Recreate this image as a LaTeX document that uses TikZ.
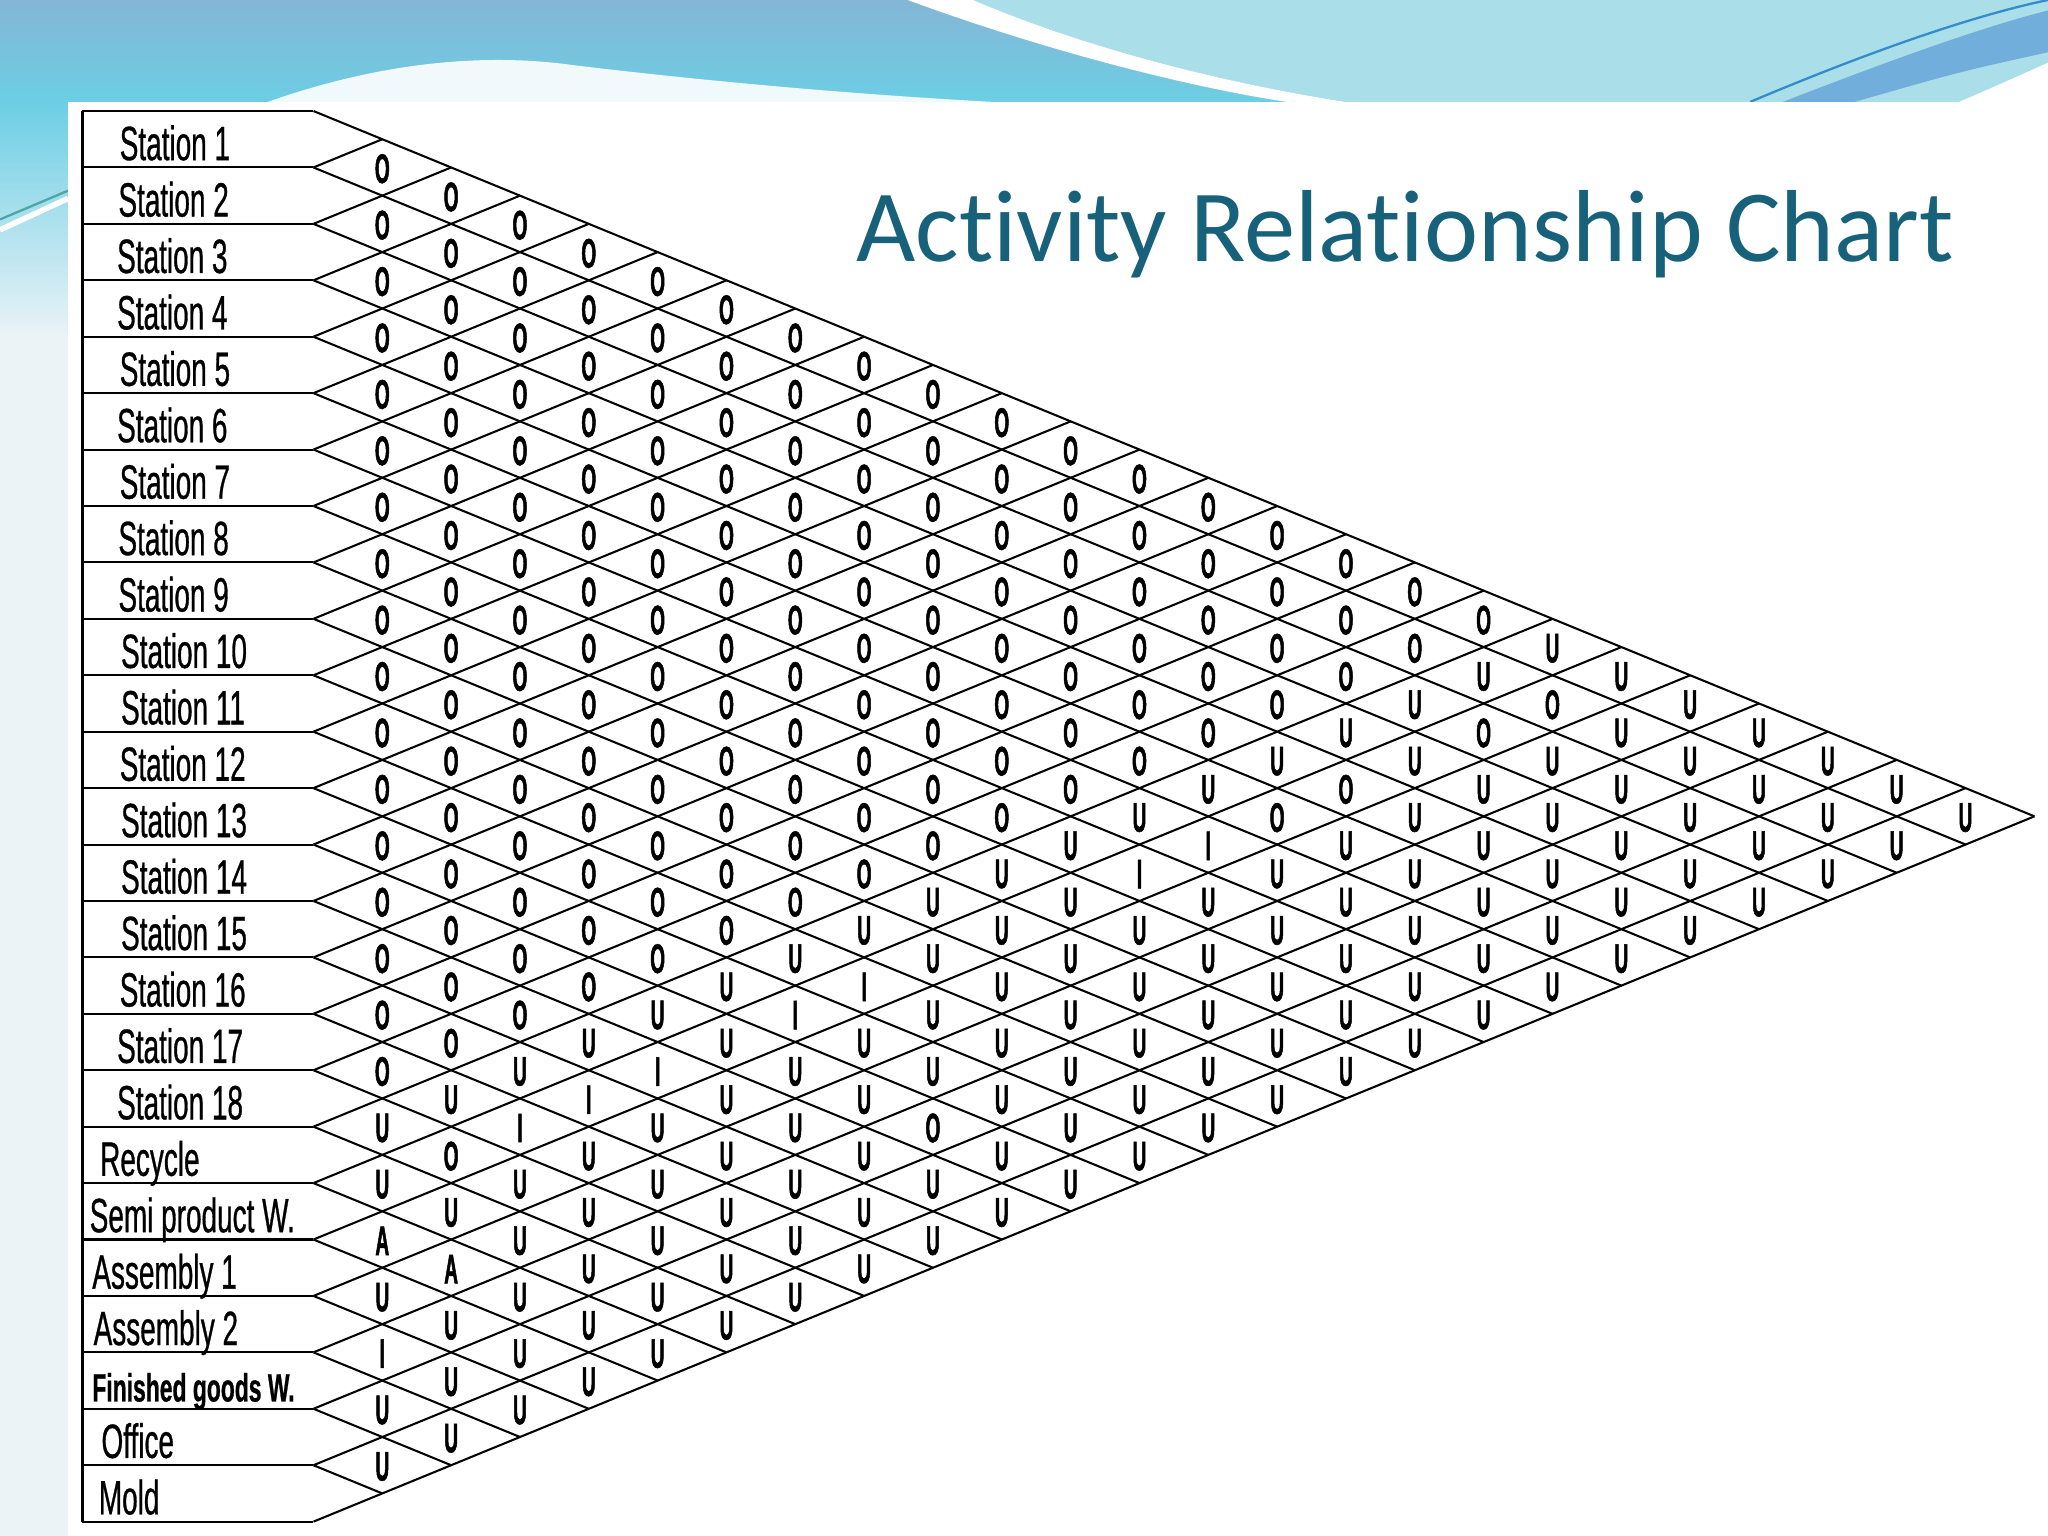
\documentclass[tikz,border=0pt]{standalone}
\usepackage{fontspec}
\setmainfont{Liberation Sans}
\newfontfamily\arcfont[FakeStretch=0.46,FakeBold=1.2]{Liberation Sans}
\newfontfamily\deptfont[FakeStretch=0.58,FakeBold=0.6]{Liberation Sans}
\newfontfamily\titlefont[Ligatures=NoCommon]{Carlito}
\usetikzlibrary{positioning}
\definecolor{titleteal}{RGB}{24,97,122}
\definecolor{skyblue}{RGB}{132,182,214}
\definecolor{skycyan}{RGB}{108,206,228}
\definecolor{lightcyan}{RGB}{170,222,232}
\definecolor{palebg}{RGB}{236,243,247}
\definecolor{swooshblue}{RGB}{52,140,205}
\tikzset{
  rowline/.style={line width=0.45pt},
  rel/.style={inner sep=0pt,font=\arcfont\bfseries\fontsize{9}{10}\selectfont},
  dept/.style={anchor=base west,inner sep=0pt,font=\deptfont\fontsize{10.5}{12}\selectfont}
}

\begin{document}
\begin{tikzpicture}[x=0.1mm,y=-0.1mm]
\useasboundingbox (0,0) rectangle (1568,1176);

% slide backdrop
\fill[palebg] (0,0) rectangle (1568,1176);
\shade[top color=skycyan,bottom color=palebg] (0,78) rectangle (52,260);
\draw[white,line width=1.2pt] (0,176) -- (52,152);
\draw[teal!70,line width=0.5pt] (0,168) -- (52,146);
\shade[top color=skyblue,bottom color=skycyan] (0,0) rectangle (1568,78);
\fill[white,opacity=0.9] (205,78) .. controls (290,48) and (370,40) .. (440,50)
  .. controls (540,62) and (650,72) .. (760,78) -- cycle;
\fill[lightcyan] (745,0) .. controls (815,30) and (915,60) .. (1030,78) -- (1568,78) -- (1568,0) -- cycle;
\fill[white] (695,0) .. controls (790,35) and (900,65) .. (985,78) -- (1030,78)
  .. controls (915,60) and (815,30) .. (745,0) -- cycle;
\fill[swooshblue!70] (1365,78) .. controls (1450,45) and (1520,20) .. (1568,8)
  -- (1568,40) .. controls (1500,55) .. (1420,78) -- cycle;
\draw[swooshblue,line width=0.5pt] (1340,78) .. controls (1430,40) and (1510,12) .. (1568,0);
\fill[white] (1500,78) .. controls (1530,65) .. (1568,48) -- (1568,78) -- cycle;
\fill[white] (52,78) rectangle (1568,1176);

\node[anchor=base west,inner sep=0pt,text=titleteal,font=\titlefont\fontsize{22.3}{26}\selectfont]
  (title) at (655,200) {Activity Relationship Chart};

% row boundaries
\foreach \i in {0,...,25} {
  \pgfmathsetmacro\yy{85+43.2*\i}
  \coordinate (l\i) at (63,\yy);
  \coordinate (p\i) at (240,\yy);
  \draw[rowline] (l\i) -- (p\i);
}
\draw[line width=0.6pt] (l0) -- (l25);

% diamond lattice
\foreach \i in {0,...,24} {
  \pgfmathsetmacro\yy{85+43.2*\i}
  \coordinate (q\i) at ({240+1.22*(1165-\yy)},{(\yy+1165)/2});
  \draw[rowline] (p\i) -- (q\i);
}
\foreach \i in {1,...,25} {
  \pgfmathsetmacro\yy{85+43.2*\i}
  \coordinate (r\i) at ({240+1.22*(\yy-85)},{(\yy+85)/2});
  \draw[rowline] (p\i) -- (r\i);
}

\foreach \i/\x/\t in {1/91/Station 1,2/90/Station 2,3/89/Station 3,4/89/Station 4,
  5/91/Station 5,6/89/Station 6,7/91/Station 7,8/90/Station 8,9/90/Station 9,
  10/92/Station 10,11/92/Station 11,12/91/Station 12,13/92/Station 13,
  14/92/Station 14,15/92/Station 15,16/91/Station 16,17/89/Station 17,
  18/89/Station 18,19/76/Recycle,20/68/Semi product W.,21/70/Assembly 1,
  22/71/Assembly 2,23/70/{\bfseries\fontsize{8.6}{10}\selectfont Finished goods W.},
  24/77/Office,25/75/Mold}
  \node[dept] (d\i) at (\x,{85+43.2*\i-21.6+16}) {\t};

% closeness ratings
\foreach \a/\b/\r in {2/20/O,3/20/O,5/20/O,6/20/O,18/20/O,14/23/O,
  7/20/I,8/20/I,12/20/I,13/20/I,15/20/I,16/20/I,17/20/I,22/23/I,
  20/21/A,20/22/A}
  {\expandafter\xdef\csname arc\a-\b\endcsname{\r}}
\foreach \a in {1,...,24} {
  \pgfmathtruncatemacro\nb{\a+1}
  \foreach \b in {\nb,...,25} {
    \ifnum\b<19 \def\r{O}\else\def\r{U}\fi
    \ifcsname arc\a-\b\endcsname \edef\r{\csname arc\a-\b\endcsname}\fi
    \node[rel] (c\a-\b) at ({240+52.7*(\b-\a)},{85+21.6*(\a+\b-1)+1}) {\r};
  }
}
\end{tikzpicture}
\end{document}
